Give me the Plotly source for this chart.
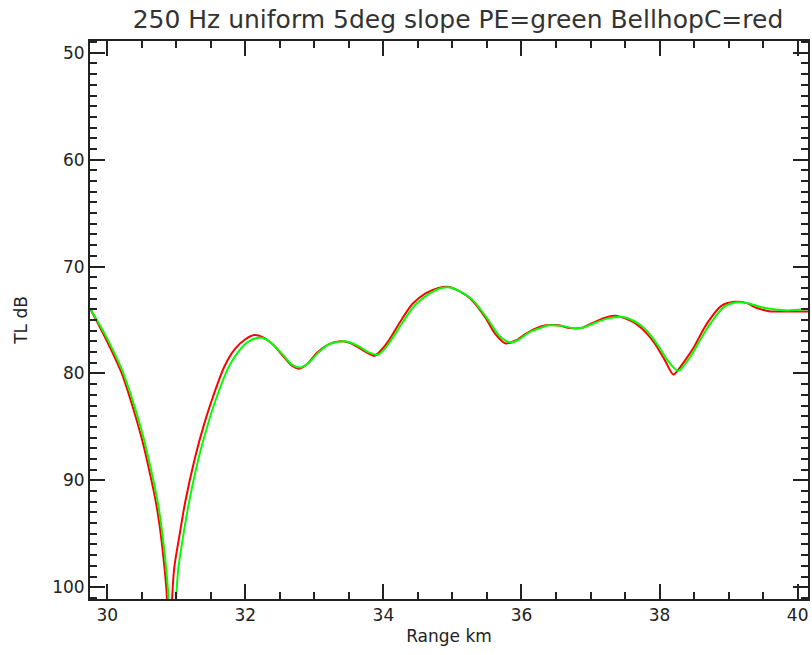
import plotly.graph_objects as go

# BellhopC (red)
red_range = [29.75, 29.92, 30.05, 30.21, 30.30, 30.40, 30.52, 30.63, 30.70, 30.76, 30.82, 30.86, 30.90, 30.94,
             30.97, 31.05, 31.13, 31.27, 31.41, 31.53, 31.70, 31.85, 32.00, 32.13, 32.25, 32.40, 32.55,
             32.68, 32.78, 32.90, 33.05, 33.20, 33.35, 33.50, 33.62, 33.75, 33.87, 33.97, 34.08, 34.23,
             34.42, 34.61, 34.80, 34.93, 35.07, 35.20, 35.29, 35.48, 35.62, 35.77, 35.92, 36.06, 36.20,
             36.35, 36.54, 36.70, 36.87, 37.02, 37.20, 37.35, 37.52, 37.69, 37.82, 37.93, 38.08, 38.20,
             38.30, 38.40, 38.51, 38.60, 38.70, 38.89, 39.08, 39.25, 39.42, 39.61, 39.80, 40.00, 40.15]
red_tl = [73.9, 76.0, 77.7, 80.0, 81.7, 83.8, 86.6, 89.7, 91.9, 94.3, 97.6, 100.5, 108.0, 101.0,
          98.2, 95.0, 92.0, 87.9, 84.6, 82.2, 79.3, 77.7, 76.8, 76.4, 76.6, 77.3, 78.4,
          79.3, 79.55, 79.1, 78.0, 77.3, 77.0, 77.1, 77.5, 78.0, 78.35, 77.8, 76.9, 75.3,
          73.5, 72.5, 72.0, 71.9, 72.2, 72.7, 73.2, 74.8, 76.3, 77.2, 76.9, 76.3, 75.8,
          75.5, 75.5, 75.75, 75.75, 75.3, 74.8, 74.6, 74.9, 75.5, 76.3, 77.2, 78.8, 80.1,
          79.4, 78.5, 77.4, 76.3, 75.2, 73.7, 73.3, 73.4, 73.9, 74.2, 74.2, 74.2, 74.2]

# PE (green)
green_range = [29.75, 29.92, 30.05, 30.21, 30.30, 30.40, 30.52, 30.63, 30.70, 30.76, 30.82, 30.88, 30.95, 31.00,
               31.03, 31.10, 31.18, 31.32, 31.46, 31.58, 31.75, 31.90, 32.05, 32.20, 32.30, 32.40,
               32.55, 32.68, 32.80, 32.92, 33.05, 33.20, 33.38, 33.52, 33.65, 33.78, 33.92, 34.02, 34.12,
               34.27, 34.46, 34.65, 34.84, 34.97, 35.10, 35.25, 35.33, 35.52, 35.68, 35.84, 35.97, 36.10,
               36.25, 36.40, 36.58, 36.74, 36.90, 37.05, 37.25, 37.45, 37.60, 37.75, 37.88, 38.00, 38.13,
               38.27, 38.36, 38.46, 38.56, 38.65, 38.74, 38.93, 39.12, 39.30, 39.47, 39.65, 39.85, 40.00, 40.15]
green_tl = [73.9, 75.8, 77.4, 79.6, 81.2, 83.2, 85.9, 88.9, 91.0, 93.2, 96.2, 100.3, 110.0, 100.8,
            98.2, 95.2, 92.2, 88.0, 84.7, 82.3, 79.5, 77.95, 77.0, 76.65, 76.8, 77.3,
            78.3, 79.2, 79.45, 79.0, 78.1, 77.3, 77.0, 77.1, 77.5, 78.0, 78.25, 77.7, 76.8,
            75.3, 73.6, 72.6, 72.0, 71.95, 72.3, 72.9, 73.4, 75.0, 76.5, 77.1, 76.8, 76.2,
            75.8, 75.5, 75.55, 75.75, 75.7, 75.3, 74.85, 74.7, 75.0, 75.6, 76.5, 77.6, 78.9,
            79.75, 79.2, 78.3, 77.2, 76.2, 75.3, 73.8, 73.35, 73.45, 73.8, 74.0, 74.1, 74.05, 74.0]

x_ticks = [30, 32, 34, 36, 38, 40]
y_ticks = [50, 60, 70, 80, 90, 100]

fig = go.Figure()
fig.add_trace(go.Scatter(x=red_range, y=red_tl, mode="lines", name="BellhopC",
                         line=dict(color="#ff0000", width=2, shape="spline", smoothing=0.8)))
fig.add_trace(go.Scatter(x=green_range, y=green_tl, mode="lines", name="PE",
                         line=dict(color="#00ff00", width=2, shape="spline", smoothing=0.8)))

font_family = "DejaVu Sans"
fig.update_layout(
    width=812, height=655,
    margin=dict(l=90, r=2, t=41, b=56),
    paper_bgcolor="white", plot_bgcolor="white",
    showlegend=False,
    font=dict(family=font_family, color="#222222", size=17),
    title=dict(text="250 Hz uniform 5deg slope PE=green BellhopC=red",
               x=0.564, xanchor="center", y=0.971, yanchor="middle",
               font=dict(family=font_family, size=25, color="#333333")),
)
fig.update_xaxes(
    range=[29.75, 40.15], tickvals=x_ticks, ticktext=[str(v) for v in x_ticks],
    ticks="inside", ticklen=15, tickwidth=1.5, tickcolor="#222222",
    minor=dict(ticks="inside", ticklen=7, dtick=0.5, tick0=30, tickcolor="#222222", tickwidth=1.5),
    showline=True, linecolor="#222222", linewidth=2, mirror="ticks",
    showgrid=False, zeroline=False,
    title=dict(text="Range km", standoff=6, font=dict(size=17)),
    tickfont=dict(size=17),
)
fig.update_yaxes(
    range=[101.1, 48.9], tickvals=y_ticks, ticktext=[str(v) for v in y_ticks],
    ticks="inside", ticklen=15, tickwidth=1.5, tickcolor="#222222",
    minor=dict(ticks="inside", ticklen=7, dtick=1, tick0=50, tickcolor="#222222", tickwidth=1.5),
    showline=True, linecolor="#222222", linewidth=2, mirror="ticks",
    showgrid=False, zeroline=False,
    title=dict(text="TL dB", standoff=20, font=dict(size=17)),
    tickfont=dict(size=17),
)

fig.write_html("out.html")
